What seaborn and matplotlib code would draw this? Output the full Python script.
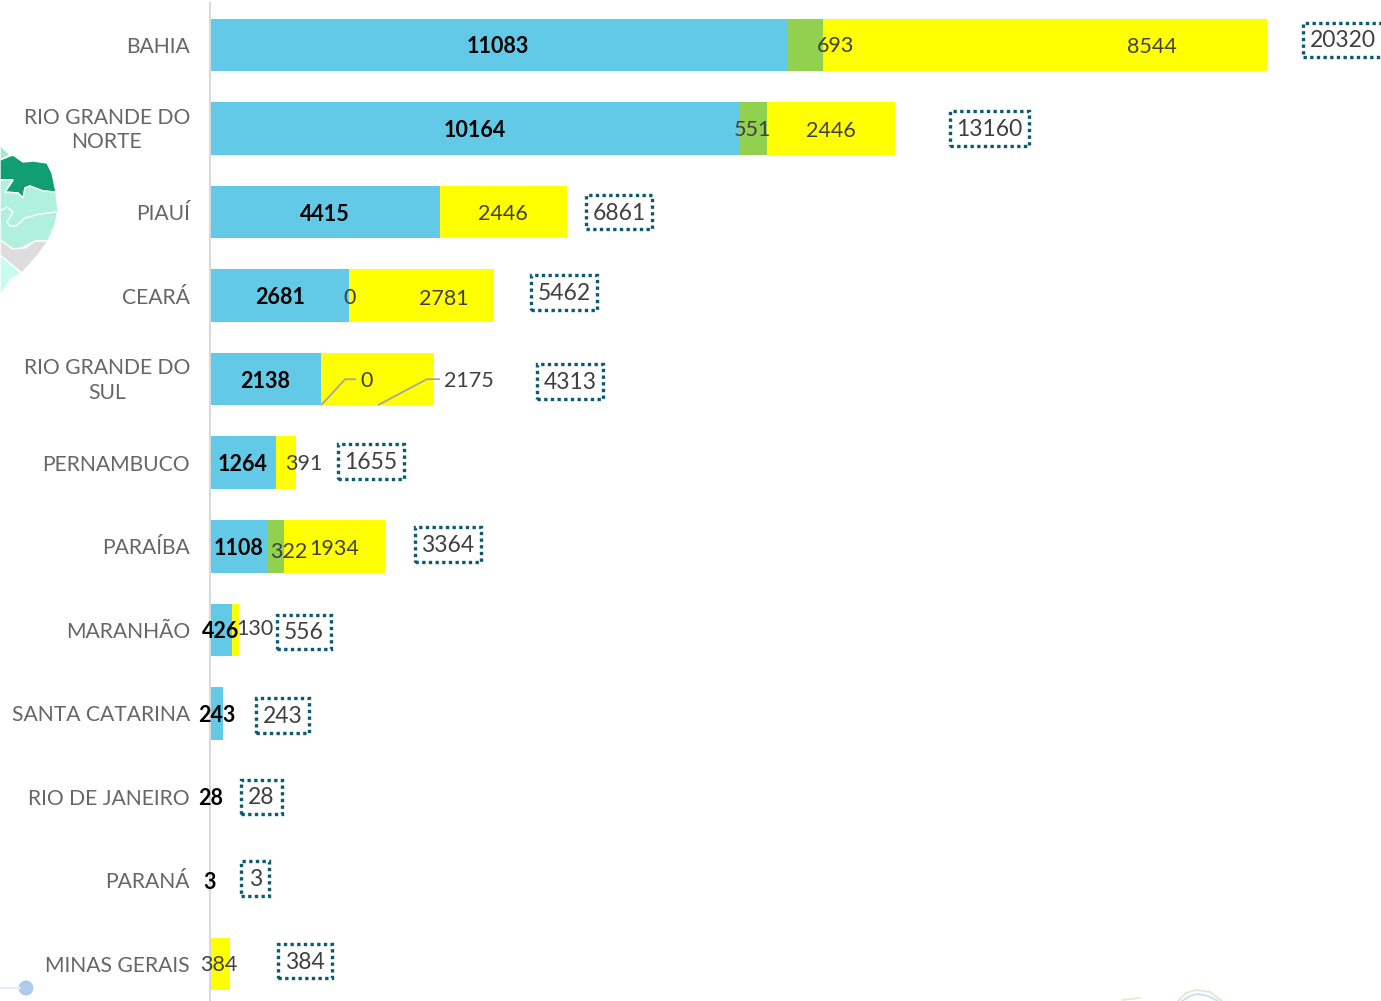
"""
Barras empilhadas por estado, com total em caixa pontilhada ao lado.
"""

import pandas as pd
import matplotlib
matplotlib.use("Agg")
import matplotlib.pyplot as plt
from matplotlib.patches import Polygon, Circle
from matplotlib.transforms import ScaledTranslation
import seaborn as sns

W, H = 1381, 1001

estados = ["BAHIA", "RIO GRANDE DO\nNORTE", "PIAUÍ", "CEARÁ", "RIO GRANDE DO\nSUL",
           "PERNAMBUCO", "PARAÍBA", "MARANHÃO", "SANTA CATARINA", "RIO DE JANEIRO",
           "PARANÁ", "MINAS GERAIS"]
azul = [11083, 10164, 4415, 2681, 2138, 1264, 1108, 426, 243, 28, 3, 0]
verde = [693, 551, 0, 0, 0, 0, 322, 0, 0, 0, 0, 0]
amarelo = [8544, 2446, 2446, 2781, 2175, 391, 1934, 130, 0, 0, 0, 384]
totais = [20320, 13160, 6861, 5462, 4313, 1655, 3364, 556, 243, 28, 3, 384]

# Ajustes manuais dos rótulos, em pixels (linha -> dx, dy)
desloc_verde = {0: (31, 1), 1: (-1, 1), 3: (0, 2), 4: (45, 2), 6: (13, 6)}
desloc_amarelo = {0: (107, 2), 1: (0, 2), 2: (0, 2), 3: (22, 3), 4: (91, 2),
                  5: (18, 1), 6: (0, 3), 7: (19, -1), 11: (-1, 1)}
desloc_total = [76, 95, 52, 70, 136, 75, 63, 65, 60, 50, 45, 75]
desloc_total_y = [-5, 0, 0, -3, 2, -1, -2, 2, 2, 0, -2, -3]

COR_AZUL = "#62C9E6"
COR_VERDE = "#92D050"
COR_AMARELO = "#FFFF00"
COR_PONTOS = "#0B5A73"
FONTE = "Lato"

PX_X = 1057 / 20320  # pixels por unidade

sns.set_theme(style="white")
plt.rcParams["font.family"] = [FONTE, "DejaVu Sans"]

df = pd.DataFrame({"estado": estados, "azul": azul, "verde": verde,
                   "amarelo": amarelo, "total": totais})
df["azul_verde"] = df["azul"] + df["verde"]
df["soma"] = df["azul_verde"] + df["amarelo"]

fig = plt.figure(figsize=(W / 100, H / 100), dpi=100)

# Camada de fundo em pixels: pedaço do mapa e enfeites
bg = fig.add_axes([0, 0, 1, 1])
bg.set_xlim(0, W)
bg.set_ylim(H, 0)
bg.axis("off")
regioes = [
    ("#A6E9D2", [(0, 145), (10, 155), (0, 160)]),
    ("#129E73", [(0, 160), (10, 156), (13, 155), (23, 162), (33, 161), (47, 163), (52, 173),
                 (56, 192), (43, 191), (30, 186), (25, 188), (23, 198), (18, 193), (5, 192),
                 (13, 180), (0, 180)]),
    ("#B2F0DE", [(0, 180), (13, 180), (5, 192), (18, 193), (23, 198), (25, 188), (30, 186),
                 (43, 191), (56, 192), (58, 210), (55, 225), (48, 241), (35, 241), (22, 248),
                 (13, 249), (0, 240)]),
    ("#DDDDDD", [(0, 240), (13, 249), (25, 248), (35, 241), (48, 241), (38, 255), (22, 273),
                 (12, 265), (0, 255)]),
    ("#C8FCEC", [(0, 255), (12, 265), (21, 273), (10, 280), (0, 296)]),
]
for cor, pts in regioes:
    bg.add_patch(Polygon(pts, closed=True, fc=cor, ec="white", lw=1))
bg.plot([0, 7, 13, 7, 10, 16, 25, 40, 56], [211, 207, 212, 222, 226, 226, 218, 214, 212], color="white", lw=1)
bg.plot([0, 20], [988, 988], color="#E4EDFA", lw=1.5)
bg.add_patch(Circle((26, 988), 7.5, fc="#AECBEE", ec="none"))
bg.plot([1178, 1186, 1196, 1210, 1222], [1001, 993, 990, 992, 1001], color="#DDE8C8", lw=1.2)
bg.plot([1182, 1190, 1197, 1208, 1218], [1001, 996, 994, 996, 1001], color="#BFE0EE", lw=1.2)
bg.plot([1122, 1140], [1000, 998], color="#E8E8C8", lw=1.2)

# Eixo principal alinhado aos pixels da figura
ax = fig.add_axes([210 / W, 0, (W - 210) / W, (H - 3) / H])
ax.patch.set_alpha(0)

# Camadas acumuladas, da maior para a menor
largura = 52.5 / 83.55
opts = dict(saturation=1, width=largura, linewidth=0, ax=ax)
sns.barplot(data=df, x="soma", y="estado", color=COR_AMARELO, **opts)
sns.barplot(data=df, x="azul_verde", y="estado", color=COR_VERDE, **opts)
sns.barplot(data=df, x="azul", y="estado", color=COR_AZUL, **opts)

ax.set_xlim(0, (W - 210) / PX_X)
ax.set_ylim((H - 45) / 83.55, -42 / 83.55)
ax.set_xlabel("")
ax.set_ylabel("")
ax.set_xticks([])
ax.tick_params(axis="y", length=0, pad=14.4)
sobe = ScaledTranslation(0, 3 / 100, fig.dpi_scale_trans)
for lab in ax.get_yticklabels():
    lab.set_fontsize(15.2)
    lab.set_color("#666666")
    lab.set_multialignment("center")
    lab.set_linespacing(1.3)
    if "\n" in lab.get_text():
        lab.set_transform(lab.get_transform() + sobe)
sns.despine(ax=ax, top=True, right=True, bottom=True)
ax.spines["left"].set_color("#D9D9D9")
ax.spines["left"].set_linewidth(1.5)


def rotulo(x, y, texto, dx=0, dy=0, **kw):
    ax.annotate(texto, (x, y), xytext=(dx, -dy), textcoords="offset pixels",
                ha="center", va="center", annotation_clip=False, **kw)


for i in range(len(estados)):
    ini_amarelo = azul[i] + verde[i]
    if azul[i] > 0:
        rotulo(azul[i] / 2, i, str(azul[i]), dy=2, fontsize=15.5, fontweight="bold", color="black")
    if verde[i] > 0 or i in (3, 4):
        dx, dy = desloc_verde.get(i, (0, 0))
        rotulo(azul[i] + verde[i] / 2, i, str(verde[i]), dx, dy, fontsize=15.5, color="#404040")
    if amarelo[i] > 0:
        dx, dy = desloc_amarelo.get(i, (0, 0))
        rotulo(ini_amarelo + amarelo[i] / 2, i, str(amarelo[i]), dx, dy, fontsize=15.5, color="#404040")
    # caixa e número separados para centralizar os dígitos na caixa
    rotulo(df["soma"][i], i, str(totais[i]), desloc_total[i], desloc_total_y[i],
           fontsize=16, color="none",
           bbox=dict(boxstyle="square,pad=0.33", fc="none", ec=COR_PONTOS, lw=2.4, ls=(0, (1, 1))))
    rotulo(df["soma"][i], i, str(totais[i]), desloc_total[i], desloc_total_y[i] + 1,
           fontsize=16.5, color="#404040")

# Linhas de chamada do Rio Grande do Sul
linha = 4
base = linha + 26 / 83.55
meio = linha
for inicio, d1, d2 in [(azul[linha], 24, 35), (azul[linha] + 1090, 49, 62)]:
    ax.plot([inicio, inicio + d1 / PX_X, inicio + d2 / PX_X], [base, meio, meio],
            color="#A6A6A6", lw=1.3, solid_capstyle="butt")

fig.savefig("out.png", dpi=100)
plt.close(fig)
